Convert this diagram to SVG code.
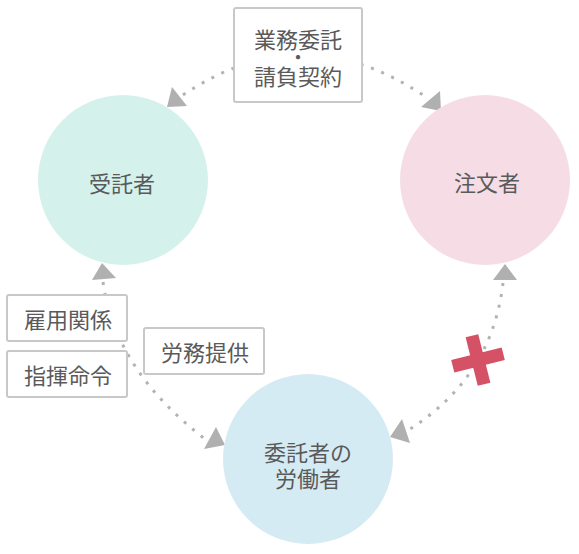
<svg xmlns="http://www.w3.org/2000/svg" width="579" height="554" viewBox="0 0 579 554">
<style>
text{font-family:"Noto Sans CJK JP","Noto Sans",sans-serif;font-size:22px;fill:#5a5a5a;text-anchor:middle;dominant-baseline:central}
text.mid{font-size:20px}
.dot{fill:none;stroke:#b3b3b3;stroke-width:3;stroke-dasharray:3 8}
.head{fill:#b0b0b0}
.box{fill:#fff;stroke:#c8c8c8;stroke-width:2}
.x{fill:#d45166}
</style>
<rect width="579" height="554" fill="#fff"/>
<g id="connectors">
<path class="dot" d="M183,95 Q302,15 423,95"/>
<path class="dot" d="M103,282 Q115,370 205,439"/>
<path class="dot" d="M503,283 Q492,378 407,431"/>
<polygon class="head" points="167,107 172,87 187,106"/>
<polygon class="head" points="441,111 440,91 421,107"/>
<polygon class="head" points="102,263 92,280 116,278"/>
<polygon class="head" points="225,445 216,427 204,449"/>
<polygon class="head" points="390,437 402,419 410,443"/>
<polygon class="head" points="505,264 493,280 517,280"/>
</g>
<g id="cross" transform="translate(478,360) rotate(-14)">
<rect class="x" x="-6.5" y="-25" width="13" height="50"/>
<rect class="x" x="-26" y="-6.5" width="52" height="13"/>
</g>
<g id="jutakusha">
<circle cx="123" cy="180" r="85" fill="#d5f1ec"/>
<text x="122" y="182">受託者</text>
</g>
<g id="chumonsha">
<circle cx="485" cy="180" r="85" fill="#f6dde5"/>
<text x="487" y="181">注文者</text>
</g>
<g id="roudousha">
<circle cx="308" cy="459" r="85" fill="#d5ebf4"/>
<text x="308" y="451">委託者の</text>
<text x="308" y="477">労働者</text>
</g>
<g id="label-gyomu">
<rect class="box" x="234" y="8" width="128" height="94" rx="2"/>
<text x="298" y="38">業務委託</text>
<text class="mid" x="298" y="56">・</text>
<text x="298" y="75">請負契約</text>
</g>
<g id="label-koyo">
<rect class="box" x="7" y="295" width="120" height="46" rx="2"/>
<text x="68" y="318">雇用関係</text>
</g>
<g id="label-shiki">
<rect class="box" x="7" y="351" width="120" height="46" rx="2"/>
<text x="68" y="374">指揮命令</text>
</g>
<g id="label-romu">
<rect class="box" x="144" y="328" width="120" height="46" rx="2"/>
<text x="205" y="351">労務提供</text>
</g>
</svg>
